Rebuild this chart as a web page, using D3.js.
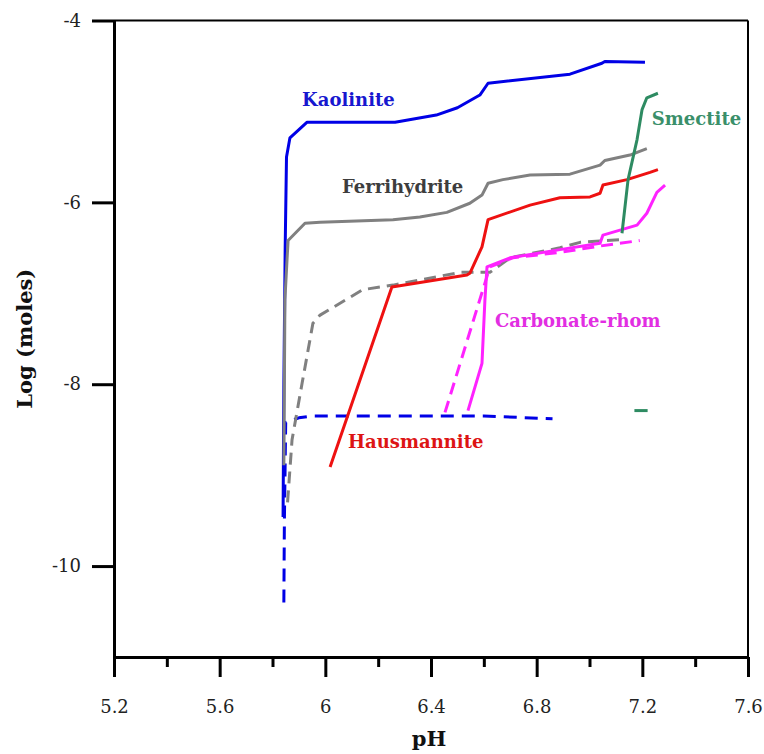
<!DOCTYPE html>
<html>
<head>
<meta charset="utf-8">
<script src="https://cdn.jsdelivr.net/npm/d3@7"></script>
<style>
  body { margin: 0; background: #fff; }
  svg text { font-family: "DejaVu Serif", "Liberation Serif", serif; }
</style>
</head>
<body>
<div id="chart"></div>
<script>
// data: [pH, log moles]
const kaolinite = [[5.84, -9.46], [5.843, -8.0], [5.848, -6.5], [5.853, -5.5], [5.866, -5.29], [5.93, -5.12],
  [6.264, -5.12], [6.42, -5.04], [6.5, -4.96], [6.585, -4.82], [6.616, -4.69], [6.926, -4.59], [7.047, -4.47],
  [7.058, -4.45], [7.21, -4.46]];
const kaoliniteDash = [[5.843, -10.4], [5.845, -9.5], [5.85, -8.42], [5.9, -8.37], [5.95, -8.35],
  [6.6, -8.35], [6.86, -8.38]];
const ferrihydrite = [[5.843, -8.89], [5.847, -7.07], [5.855, -6.63], [5.859, -6.42], [5.923, -6.23],
  [5.98, -6.22], [6.256, -6.19], [6.358, -6.16], [6.46, -6.11], [6.547, -6.01], [6.593, -5.92],
  [6.616, -5.79], [6.672, -5.75], [6.775, -5.70], [6.926, -5.69], [7.04, -5.59], [7.058, -5.54],
  [7.153, -5.48], [7.217, -5.41]];
const ferrihydriteDash = [[5.857, -9.3], [5.874, -8.61], [5.912, -7.99], [5.953, -7.33], [5.98, -7.24],
  [6.142, -6.96], [6.256, -6.91], [6.51, -6.77], [6.623, -6.77], [6.699, -6.61], [6.888, -6.50],
  [6.964, -6.44], [7.115, -6.41]];
const hausmannite = [[6.018, -8.91], [6.252, -6.93], [6.536, -6.80], [6.547, -6.78], [6.593, -6.49],
  [6.616, -6.19], [6.775, -6.03], [6.888, -5.95], [7.002, -5.94], [7.04, -5.90], [7.051, -5.81],
  [7.142, -5.75], [7.229, -5.67], [7.259, -5.64]];
const carbonate = [[6.54, -8.29], [6.593, -7.77], [6.604, -7.08], [6.612, -6.71], [6.699, -6.61],
  [6.888, -6.52], [7.04, -6.45], [7.051, -6.36], [7.18, -6.25], [7.217, -6.12], [7.255, -5.89],
  [7.286, -5.81]];
const carbonateDash = [[6.453, -8.31], [6.623, -6.71], [6.71, -6.61], [6.888, -6.55], [7.04, -6.48],
  [7.19, -6.42]];
const smectite = [[7.123, -6.34], [7.146, -5.75], [7.18, -5.31], [7.199, -4.98], [7.217, -4.85],
  [7.259, -4.80]];
const smectiteDash = [[7.17, -8.29], [7.22, -8.29]];

const xMajorTicks = [5.2, 5.6, 6, 6.4, 6.8, 7.2, 7.6];
const xMinorTicks = [5.4, 5.8, 6.2, 6.6, 7.0, 7.4];
const yTicks = [-4, -6, -8, -10];

const labels = [
  { text: "Kaolinite", ph: 5.912, v: -4.94, color: "#1717cf" },
  { text: "Ferrihydrite", ph: 6.063, v: -5.90, color: "#3d3d3d" },
  { text: "Smectite", ph: 7.236, v: -5.15, color: "#3a8f6a" },
  { text: "Carbonate-rhom", ph: 6.642, v: -7.37, color: "#e22ee2" },
  { text: "Hausmannite", ph: 6.086, v: -8.70, color: "#dd1414" }
];

const series = [
  { data: kaolinite, color: "#0000e6", dash: null },
  { data: kaoliniteDash, color: "#0000e6", dash: "13,8" },
  { data: ferrihydrite, color: "#808080", dash: null },
  { data: ferrihydriteDash, color: "#808080", dash: "12,7" },
  { data: hausmannite, color: "#ee1111", dash: null },
  { data: carbonateDash, color: "#ff22ff", dash: "12,7" },
  { data: carbonate, color: "#ff22ff", dash: null },
  { data: smectite, color: "#2e8b62", dash: null },
  { data: smectiteDash, color: "#2e8b62", dash: null }
];

const width = 764, height = 754;
const x = d3.scaleLinear().domain([5.2, 7.6]).range([114, 748]);
const y = d3.scaleLinear().domain([-11, -4]).range([657, 20.5]);

const svg = d3.select("#chart").append("svg")
  .attr("width", width)
  .attr("height", height);

const line = d3.line().x(d => x(d[0])).y(d => y(d[1]));

svg.selectAll("path.series")
  .data(series)
  .enter()
  .append("path")
  .attr("class", "series")
  .attr("d", d => line(d.data))
  .attr("fill", "none")
  .attr("stroke", d => d.color)
  .attr("stroke-width", 3)
  .attr("stroke-linejoin", "round")
  .attr("stroke-dasharray", d => d.dash);

// frame
const [x0, x1] = x.range(), [y0, y1] = y.range();
svg.append("line").attr("x1", x0).attr("x2", x1).attr("y1", y1).attr("y2", y1)
  .attr("stroke", "#000").attr("stroke-width", 2);
svg.append("line").attr("x1", x1).attr("x2", x1).attr("y1", y1).attr("y2", y0)
  .attr("stroke", "#000").attr("stroke-width", 2);

// axes
const fmt = d => String(+d.toFixed(1));
const xMajor = svg.append("g")
  .attr("transform", `translate(0,${y0})`)
  .call(d3.axisBottom(x).tickValues(xMajorTicks).tickSize(20).tickSizeOuter(0).tickPadding(23).tickFormat(fmt));
const xMinor = svg.append("g")
  .attr("transform", `translate(0,${y0})`)
  .call(d3.axisBottom(x).tickValues(xMinorTicks).tickSize(10).tickSizeOuter(0).tickFormat(""));
const yAxis = svg.append("g")
  .attr("transform", `translate(${x0},0)`)
  .call(d3.axisLeft(y).tickValues(yTicks).tickSize(22).tickSizeOuter(0).tickPadding(11).tickFormat(d => String(d)));

[xMajor, xMinor, yAxis].forEach(g => {
  g.select(".domain").attr("stroke-width", 3).attr("stroke", "#000");
  g.selectAll(".tick line").attr("stroke-width", 3).attr("stroke", "#000");
  g.selectAll(".tick text")
    .attr("font-family", "DejaVu Serif, serif")
    .attr("font-size", 18)
    .attr("fill", "#222");
});

svg.append("text")
  .attr("x", (x0 + x1) / 2 - 2)
  .attr("y", 746)
  .attr("text-anchor", "middle")
  .attr("font-size", 21)
  .attr("font-weight", "bold")
  .attr("fill", "#111")
  .text("pH");

svg.append("text")
  .attr("transform", `translate(32,${(y0 + y1) / 2}) rotate(-90)`)
  .attr("text-anchor", "middle")
  .attr("font-size", 21)
  .attr("font-weight", "bold")
  .attr("fill", "#111")
  .text("Log (moles)");

svg.selectAll("text.label")
  .data(labels)
  .enter()
  .append("text")
  .attr("class", "label")
  .attr("x", d => x(d.ph))
  .attr("y", d => y(d.v))
  .attr("font-size", 18)
  .attr("font-weight", "bold")
  .attr("fill", d => d.color)
  .text(d => d.text);
</script>
</body>
</html>
